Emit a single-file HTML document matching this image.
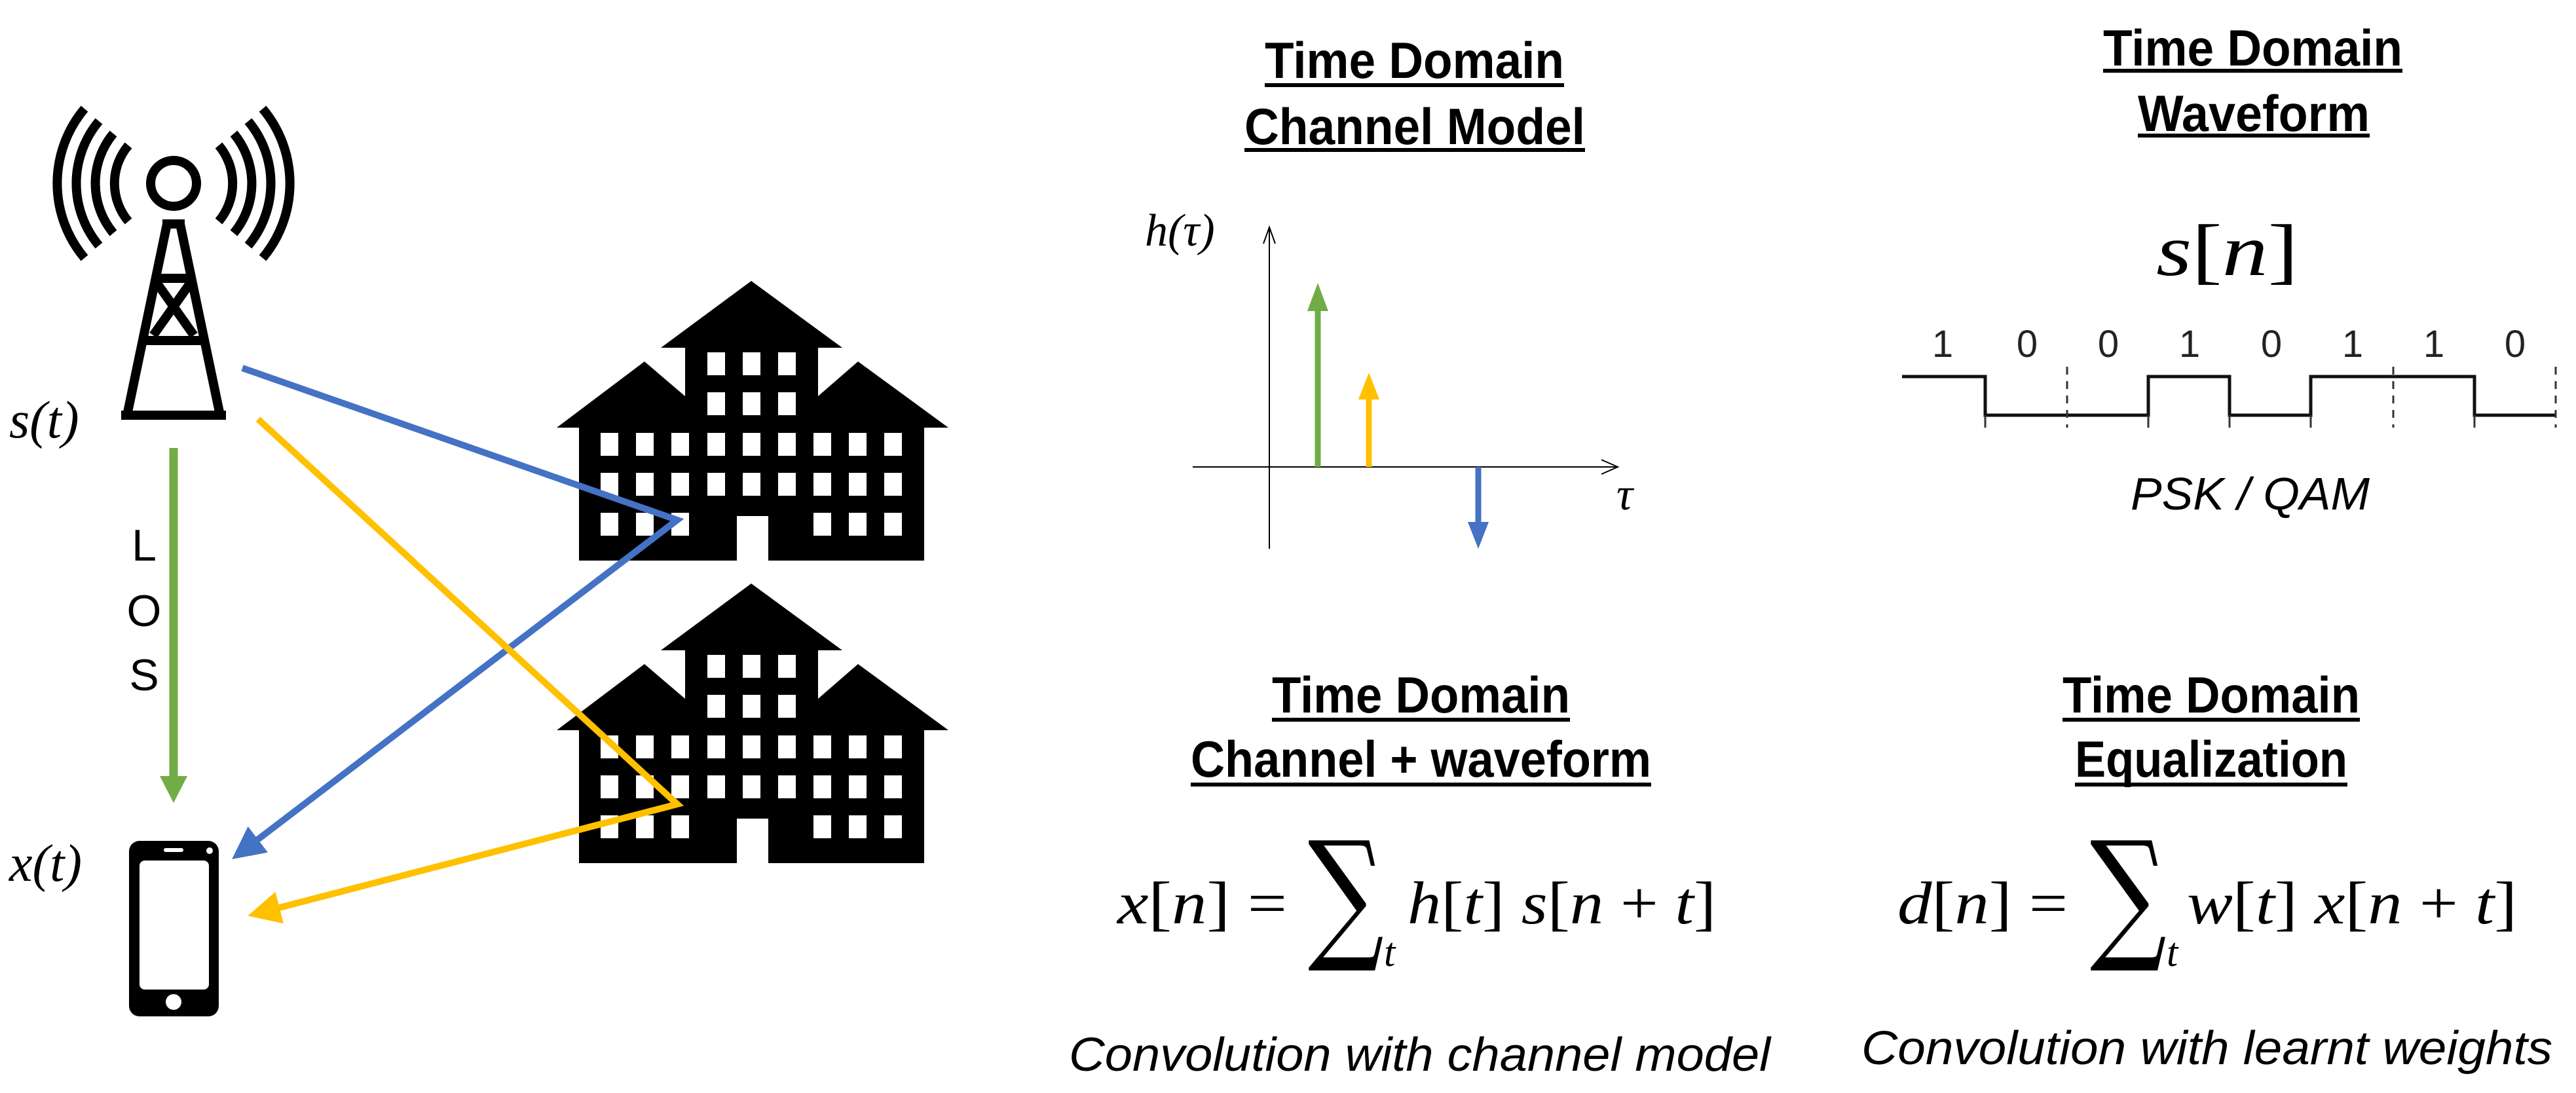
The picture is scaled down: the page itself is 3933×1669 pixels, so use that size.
<!DOCTYPE html>
<html><head><meta charset="utf-8"><style>
html,body{margin:0;padding:0;background:#fff;}
svg{display:block;}
.t{font-family:"Liberation Sans",sans-serif;font-weight:bold;}
.m{font-family:"Liberation Serif","DejaVu Serif",serif;font-style:italic;}
.i{font-family:"Liberation Sans",sans-serif;font-style:italic;}
</style></head><body>
<svg width="3933" height="1669" viewBox="0 0 3933 1669" xmlns="http://www.w3.org/2000/svg">
<defs>
<marker id="ab" markerWidth="5" markerHeight="5" refX="4" refY="2.5" orient="auto" markerUnits="strokeWidth"><path d="M0,0 L5,2.5 L0,5 Z" fill="#4472C4"/></marker>
<marker id="ay" markerWidth="5" markerHeight="5" refX="4" refY="2.5" orient="auto" markerUnits="strokeWidth"><path d="M0,0 L5,2.5 L0,5 Z" fill="#FFC000"/></marker>
<g id="bld">
<path d="M850,653 L984,552 L1046,605 L1046,531 L1009,531 L1147,429 L1286,531 L1249,531 L1249,605 L1310,552 L1448,653 L1411,653 L1411,856 L1173,856 L1173,788 L1125,788 L1125,856 L884,856 L884,653 Z" fill="#000"/>
<g fill="#fff">
<rect x="1080" y="538" width="27" height="35"/><rect x="1134" y="538" width="27" height="35"/><rect x="1188" y="538" width="27" height="35"/>
<rect x="1080" y="599" width="27" height="35"/><rect x="1134" y="599" width="27" height="35"/><rect x="1188" y="599" width="27" height="35"/>
<rect x="917" y="661" width="27" height="35"/><rect x="971" y="661" width="27" height="35"/><rect x="1025" y="661" width="27" height="35"/><rect x="1080" y="661" width="27" height="35"/><rect x="1134" y="661" width="27" height="35"/><rect x="1188" y="661" width="27" height="35"/><rect x="1242" y="661" width="27" height="35"/><rect x="1296" y="661" width="27" height="35"/><rect x="1350" y="661" width="27" height="35"/>
<rect x="917" y="722" width="27" height="35"/><rect x="971" y="722" width="27" height="35"/><rect x="1025" y="722" width="27" height="35"/><rect x="1080" y="722" width="27" height="35"/><rect x="1134" y="722" width="27" height="35"/><rect x="1188" y="722" width="27" height="35"/><rect x="1242" y="722" width="27" height="35"/><rect x="1296" y="722" width="27" height="35"/><rect x="1350" y="722" width="27" height="35"/>
<rect x="917" y="783" width="27" height="35"/><rect x="971" y="783" width="27" height="35"/><rect x="1025" y="783" width="27" height="35"/><rect x="1242" y="783" width="27" height="35"/><rect x="1296" y="783" width="27" height="35"/><rect x="1350" y="783" width="27" height="35"/>
</g></g>
</defs>

<!-- tower -->
<g fill="none" stroke="#000" stroke-width="14">
<circle cx="265" cy="280" r="35"/>
<path d="M196,222 A90,90 0 0 0 196,338"/><path d="M334,222 A90,90 0 0 1 334,338"/>
<path d="M173,204 A119,119 0 0 0 173,356"/><path d="M357,204 A119,119 0 0 1 357,356"/>
<path d="M151,185 A148,148 0 0 0 151,375"/><path d="M379,185 A148,148 0 0 1 379,375"/>
<path d="M129,166 A177,177 0 0 0 129,394"/><path d="M401,166 A177,177 0 0 1 401,394"/>
<path d="M255,342 L194,634"/><path d="M275,342 L336,634"/>
<path d="M248,342 L282,342"/><path d="M185,634 L345,634"/>
<path d="M236,425 L294,425"/><path d="M221,520 L309,520"/>
<path d="M238,430 L296,512"/><path d="M292,430 L234,512"/>
</g>
<text x="14" y="668" class="m" font-size="80" font-style="normal">s<tspan font-style="italic">(t)</tspan></text>

<!-- LOS -->
<line x1="265" y1="684" x2="265" y2="1190" stroke="#70AD47" stroke-width="13"/>
<path d="M244,1185 L286,1185 L265,1226 Z" fill="#70AD47"/>
<g font-family="Liberation Sans,sans-serif" font-size="68" text-anchor="middle">
<text x="220" y="856">L</text><text x="220" y="956">O</text><text x="220" y="1054">S</text></g>
<text x="14" y="1345" class="m" font-size="80">x(t)</text>

<!-- phone -->
<rect x="197" y="1284" width="137" height="268" rx="16" fill="#000"/>
<rect x="213" y="1314" width="106" height="197" rx="8" fill="#fff"/>
<rect x="250" y="1295" width="30" height="6" rx="3" fill="#fff"/>
<circle cx="320" cy="1299" r="5" fill="#fff"/>
<circle cx="265" cy="1530" r="12" fill="#fff"/>

<!-- buildings -->
<use href="#bld"/>
<use href="#bld" transform="translate(0,462)"/>

<!-- rays -->
<polyline points="370,562 1034,794 362,1306" fill="none" stroke="#4472C4" stroke-width="10" marker-end="url(#ab)"/>
<polyline points="394,640 1034,1228 388,1396" fill="none" stroke="#FFC000" stroke-width="10" marker-end="url(#ay)"/>

<!-- titles -->
<g class="t" font-size="78">
<text x="1931" y="119" textLength="457" lengthAdjust="spacingAndGlyphs">Time Domain</text>
<text x="1900" y="220" textLength="520" lengthAdjust="spacingAndGlyphs">Channel Model</text>
<text x="3211" y="100" textLength="457" lengthAdjust="spacingAndGlyphs">Time Domain</text>
<text x="3264" y="200" textLength="354" lengthAdjust="spacingAndGlyphs">Waveform</text>
<text x="1942" y="1088" textLength="455" lengthAdjust="spacingAndGlyphs">Time Domain</text>
<text x="1818" y="1186" textLength="703" lengthAdjust="spacingAndGlyphs">Channel + waveform</text>
<text x="3149" y="1088" textLength="454" lengthAdjust="spacingAndGlyphs">Time Domain</text>
<text x="3168" y="1186" textLength="416" lengthAdjust="spacingAndGlyphs">Equalization</text>
</g>
<g fill="#000">
<rect x="1931" y="127" width="457" height="6"/><rect x="1900" y="226" width="520" height="6"/>
<rect x="3211" y="105" width="457" height="6"/><rect x="3264" y="204" width="354" height="6"/>
<rect x="1942" y="1096" width="455" height="6"/><rect x="1818" y="1195" width="703" height="6"/>
<rect x="3149" y="1096" width="454" height="6"/><rect x="3168" y="1195" width="416" height="6"/>
</g>

<!-- channel graph -->
<g stroke="#000" stroke-width="2" fill="none">
<line x1="1938" y1="347" x2="1938" y2="838"/>
<path d="M1929,372 L1938,347 L1947,372"/>
<line x1="1821" y1="713" x2="2470" y2="713"/>
<path d="M2445,702 L2470,713 L2445,724"/>
</g>
<text x="1748" y="375" class="m" font-size="70">h(τ)</text>
<text x="2468" y="778" class="m" font-size="70">τ</text>
<line x1="2012" y1="713" x2="2012" y2="470" stroke="#70AD47" stroke-width="9"/>
<path d="M1996,475 L2028,475 L2012,432 Z" fill="#70AD47"/>
<line x1="2090" y1="713" x2="2090" y2="605" stroke="#FFC000" stroke-width="9"/>
<path d="M2074,610 L2106,610 L2090,569 Z" fill="#FFC000"/>
<line x1="2257" y1="713" x2="2257" y2="800" stroke="#4472C4" stroke-width="9"/>
<path d="M2241,797 L2273,797 L2257,838 Z" fill="#4472C4"/>

<!-- waveform -->
<text x="3292" y="420" class="m" font-size="112" textLength="217" lengthAdjust="spacingAndGlyphs">s<tspan font-style="normal">[</tspan>n<tspan font-style="normal">]</tspan></text>
<g font-family="Liberation Sans,sans-serif" font-size="58" fill="#222" text-anchor="middle">
<text x="2966" y="545">1</text><text x="3095" y="545">0</text><text x="3219" y="545">0</text><text x="3343" y="545">1</text><text x="3468" y="545">0</text><text x="3592" y="545">1</text><text x="3716" y="545">1</text><text x="3840" y="545">0</text>
</g>
<polyline points="2904,575 3031,575 3031,634 3280,634 3280,575 3404,575 3404,634 3528,634 3528,575 3778,575 3778,634 3902,634" fill="none" stroke="#111" stroke-width="5"/>
<g stroke="#333" stroke-width="3">
<line x1="3031" y1="634" x2="3031" y2="653"/><line x1="3280" y1="634" x2="3280" y2="653"/><line x1="3404" y1="634" x2="3404" y2="653"/><line x1="3528" y1="634" x2="3528" y2="653"/><line x1="3778" y1="634" x2="3778" y2="653"/>
<line x1="3156" y1="560" x2="3156" y2="653" stroke-dasharray="12,10"/><line x1="3654" y1="560" x2="3654" y2="653" stroke-dasharray="12,10"/><line x1="3902" y1="560" x2="3902" y2="653" stroke-dasharray="12,10"/>
</g>
<text x="3253" y="778" class="i" font-size="70" textLength="365" lengthAdjust="spacingAndGlyphs">PSK / QAM</text>

<!-- formulas -->
<g class="m" font-size="92">
<text x="1706" y="1410" textLength="259" lengthAdjust="spacingAndGlyphs">x<tspan font-style="normal">[</tspan>n<tspan font-style="normal">] =</tspan></text>
<text x="2149" y="1410" textLength="471" lengthAdjust="spacingAndGlyphs">h<tspan font-style="normal">[</tspan>t<tspan font-style="normal">] </tspan>s<tspan font-style="normal">[</tspan>n<tspan font-style="normal"> + </tspan>t<tspan font-style="normal">]</tspan></text>
<text x="2897" y="1410" textLength="260" lengthAdjust="spacingAndGlyphs">d<tspan font-style="normal">[</tspan>n<tspan font-style="normal">] =</tspan></text>
<text x="3339" y="1410" textLength="504" lengthAdjust="spacingAndGlyphs">w<tspan font-style="normal">[</tspan>t<tspan font-style="normal">] </tspan>x<tspan font-style="normal">[</tspan>n<tspan font-style="normal"> + </tspan>t<tspan font-style="normal">]</tspan></text>
</g>
<g font-family="DejaVu Serif,serif" font-size="218">
<text x="1997" y="1440" textLength="116" lengthAdjust="spacingAndGlyphs">∑</text>
<text x="3191" y="1440" textLength="117" lengthAdjust="spacingAndGlyphs">∑</text>
</g>
<text x="2113" y="1475" class="m" font-size="62">t</text>
<text x="3308" y="1475" class="m" font-size="62">t</text>

<text x="1632" y="1635" class="i" font-size="72" textLength="1071" lengthAdjust="spacingAndGlyphs">Convolution with channel model</text>
<text x="2842" y="1625" class="i" font-size="72" textLength="1055" lengthAdjust="spacingAndGlyphs">Convolution with learnt weights</text>
</svg>
</body></html>
